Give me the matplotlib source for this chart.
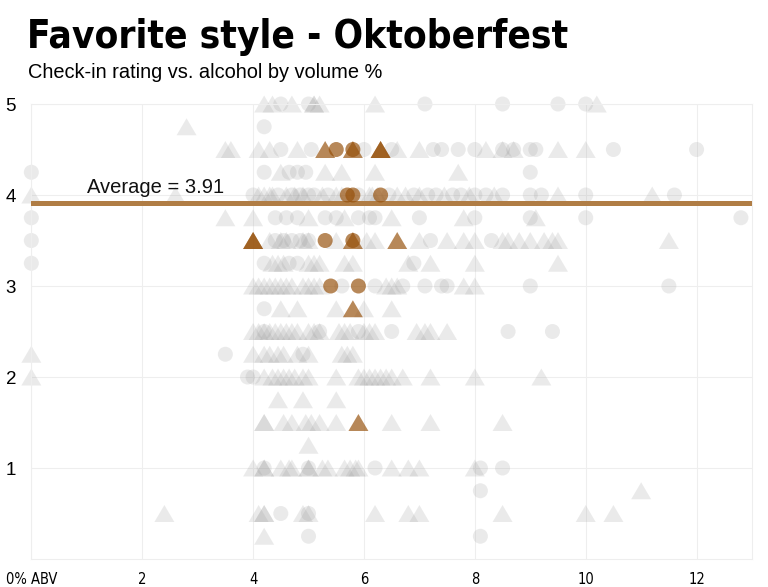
import matplotlib
matplotlib.use("Agg")
import matplotlib.pyplot as plt
from matplotlib import font_manager


def pick_font(*names):
    avail = {f.name for f in font_manager.fontManager.ttflist}
    for n in names:
        if n in avail:
            return n
    return "DejaVu Sans"


regular = pick_font("Liberation Sans", "DejaVu Sans")
# condensed face for title and x labels
narrow = dict(family="DejaVu Sans", stretch="condensed")

# grey check-ins (all other styles), one line per rating
circle_abv = [
    4.5, 5.0, 7.1, 8.5, 9.5, 10.0,
    4.2,
    4.5, 5.05, 6.0, 6.5, 7.25, 7.4, 7.7, 8.0, 8.5, 8.7, 9.0, 9.1, 10.5, 12.0,
    0.0, 4.2, 4.65, 4.8, 4.95, 9.0,
    4.0, 4.45, 4.7, 4.85, 5.0, 5.1, 5.35, 5.9, 6.45, 6.9, 7.15, 7.3, 7.6, 7.75, 8.0, 8.2, 8.5, 9.0, 9.2, 10.0, 11.6,
    0.0, 4.4, 4.6, 4.8, 5.3, 5.5, 5.9, 6.1, 6.2, 7.0, 8.0, 9.0, 10.0, 12.8,
    0.0, 4.4, 4.55, 4.7, 4.85, 5.0, 7.2, 8.3,
    0.0, 4.2, 4.65, 4.8, 6.9,
    5.6, 6.2, 6.7, 7.1, 7.4, 7.5, 9.0, 11.5,
    4.2,
    4.2, 5.2, 5.9, 6.5, 8.6, 9.4,
    3.5, 4.9,
    3.9, 4.0,
    4.2, 5.0, 6.2, 8.1, 8.5,
    8.1,
    4.5, 5.0,
    5.0, 8.1,
]
circle_rating = (
    [5.0] * 6 + [4.75] * 1 + [4.5] * 14 + [4.25] * 6 + [4.0] * 21 + [3.75] * 14
    + [3.5] * 8 + [3.25] * 5 + [3.0] * 8 + [2.75] * 1 + [2.5] * 6 + [2.25] * 2
    + [2.0] * 2 + [1.0] * 5 + [0.75] * 1 + [0.5] * 2 + [0.25] * 2
)

tri_abv = [
    4.2, 4.35, 4.7, 5.1, 5.1, 5.2, 6.2, 10.2,
    2.8,
    3.5, 3.6, 4.1, 4.3, 4.8, 6.6, 7.0, 8.2, 8.5, 8.7, 9.5, 10.0,
    4.5, 5.3, 5.6, 6.2, 7.7,
    0.0, 2.6, 4.1, 4.2, 4.3, 4.35, 4.6, 4.75, 4.9, 5.25, 5.5, 5.6, 6.1, 6.15, 6.25, 6.6, 6.75, 7.0, 7.45, 7.9, 8.35, 9.5, 11.2,
    3.5, 4.0, 5.0, 5.65, 6.5, 7.8, 9.1,
    4.3, 4.5, 4.6, 4.9, 5.0, 5.5, 6.05, 6.2, 7.0, 7.5, 7.8, 8.0, 8.5, 8.6, 8.8, 9.0, 9.25, 9.4, 9.5, 11.5,
    4.35, 4.45, 4.55, 5.0, 5.1, 5.2, 5.65, 5.8, 6.8, 7.2, 8.0, 9.5,
    4.0, 4.1, 4.2, 4.3, 4.4, 4.5, 4.6, 4.7, 4.9, 5.0, 5.1, 5.2, 6.4, 6.5, 6.6, 7.8, 8.0,
    4.5, 4.8, 5.5, 6.0, 6.5,
    4.0, 4.1, 4.2, 4.3, 4.4, 4.5, 4.6, 4.7, 4.8, 5.0, 5.1, 5.2, 5.55, 5.65, 5.75, 6.0, 6.1, 6.2, 6.95, 7.1, 7.2, 7.5,
    0.0, 4.0, 4.2, 4.3, 4.45, 4.55, 4.8, 5.0, 5.6, 5.7, 5.8,
    0.0, 4.2, 4.35, 4.45, 4.55, 4.65, 4.75, 4.9, 5.0, 5.5, 5.9, 6.0, 6.1, 6.2, 6.3, 6.4, 6.5, 6.7, 7.2, 8.0, 9.2,
    4.45, 4.9, 5.5,
    4.2, 4.2, 4.55, 4.7, 4.95, 5.05, 5.2, 5.5, 6.5, 7.2, 8.5,
    5.0,
    4.0, 4.2, 4.2, 4.5, 4.65, 4.7, 5.0, 5.0, 5.25, 5.35, 5.65, 5.75, 5.85, 5.9, 6.5, 6.8, 7.0, 8.0,
    11.0,
    2.4, 4.1, 4.2, 4.2, 4.9, 5.0, 6.2, 6.8, 7.0, 8.5, 10.0, 10.5,
    4.2,
]
tri_rating = (
    [5.0] * 8 + [4.75] * 1 + [4.5] * 12 + [4.25] * 5 + [4.0] * 23 + [3.75] * 7
    + [3.5] * 20 + [3.25] * 12 + [3.0] * 17 + [2.75] * 5 + [2.5] * 22
    + [2.25] * 11 + [2.0] * 21 + [1.75] * 3 + [1.5] * 11 + [1.25] * 1
    + [1.0] * 18 + [0.75] * 1 + [0.5] * 12 + [0.25] * 1
)

# Oktoberfest check-ins
fav_circle_abv = [5.5, 5.8, 5.7, 5.8, 6.3, 5.3, 5.8, 5.4, 5.9]
fav_circle_rating = [4.5, 4.5, 4.0, 4.0, 4.0, 3.5, 3.5, 3.0, 3.0]
fav_tri_abv = [5.3, 5.8, 6.3, 6.3, 4.0, 4.0, 5.8, 6.6, 5.8, 5.9]
fav_tri_rating = [4.5, 4.5, 4.5, 4.5, 3.5, 3.5, 3.5, 3.5, 2.75, 1.5]

average = 3.91
x_ticks = [0, 2, 4, 6, 8, 10, 12]
x_labels = ["0% ABV", "2", "4", "6", "8", "10", "12"]
y_ticks = [1, 2, 3, 4, 5]

tri_marker = [(-1, -0.85), (1, -0.85), (0, 0.85)]
grey = "#9a9a9a"
brown = "#96500a"

fig = plt.figure(figsize=(7.68, 5.87), dpi=100)
ax = fig.add_axes([0.0408, 0.0477, 0.9384, 0.7751])

ax.scatter(circle_abv, circle_rating, s=117, marker="o", color=grey, alpha=0.2,
           edgecolors="none", clip_on=False, zorder=2)
ax.scatter(tri_abv, tri_rating, s=207, marker=tri_marker, color=grey, alpha=0.2,
           edgecolors="none", clip_on=False, zorder=2)

ax.axhline(average, color="#b07d45", lw=3.6, solid_capstyle="round", zorder=3)
ax.text(1.0, average + 0.07, "Average = %.2f" % average, fontsize=14.5,
        family=regular, color="#111111", va="bottom", ha="left", zorder=4)

ax.scatter(fav_tri_abv, fav_tri_rating, s=207, marker=tri_marker, color=brown,
           alpha=0.68, edgecolors="none", clip_on=False, zorder=5)
ax.scatter(fav_circle_abv, fav_circle_rating, s=117, marker="o", color=brown,
           alpha=0.68, edgecolors="none", clip_on=False, zorder=5)

ax.set_xlim(0, 13)
ax.set_ylim(0, 5)
ax.set_xticks(x_ticks)
ax.set_xticklabels(x_labels, fontsize=10.5, **narrow)
ax.set_yticks(y_ticks)
ax.set_yticklabels([str(v) for v in y_ticks], family=regular, fontsize=13.5)
ax.tick_params(length=0)
ax.tick_params(axis="x", pad=9)
ax.tick_params(axis="y", pad=11)
ax.grid(True, color="#eeeeee", lw=0.8, zorder=0)
ax.set_axisbelow(True)
for sp in ax.spines.values():
    sp.set_color("#eeeeee")
    sp.set_linewidth(0.8)

fig.text(0.035, 1 - 48 / 587, "Favorite style - Oktoberfest", fontsize=27.8,
         fontweight="bold", va="baseline", ha="left", **narrow)
fig.text(0.036, 1 - 78 / 587, "Check-in rating vs. alcohol by volume %",
         fontsize=14.4, family=regular, va="baseline", ha="left")

fig.savefig("out.png", dpi=100)
